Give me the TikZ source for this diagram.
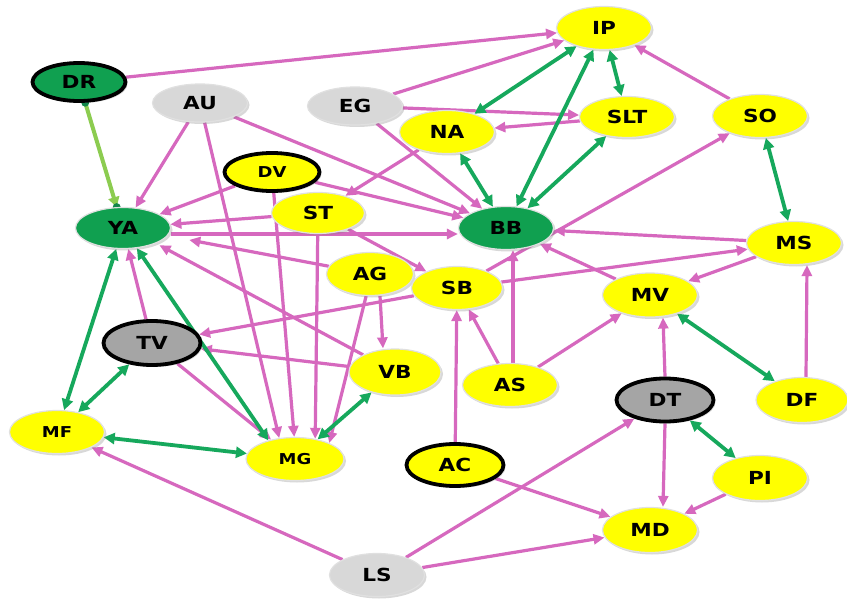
\documentclass[tikz,border=0pt]{standalone}
\usepackage{fontspec}
\newfontfamily\lblfont{DejaVu Sans}[FakeStretch=1.2]
\usetikzlibrary{shapes.geometric,arrows.meta,backgrounds,shadows}
\definecolor{pk}{RGB}{214,104,190}
\definecolor{gn}{RGB}{22,168,92}
\definecolor{lgn}{RGB}{140,204,80}
\definecolor{ylw}{RGB}{255,255,0}
\definecolor{ltg}{RGB}{216,216,216}
\definecolor{dkg}{RGB}{165,165,165}
\definecolor{ngreen}{RGB}{16,160,80}
\begin{document}
\begin{tikzpicture}[x=1pt,y=-1pt,
 nd/.style={ellipse, minimum width=95pt, minimum height=43pt, inner sep=0pt,
   font=\lblfont\bfseries\fontsize{18}{18}\selectfont, text=black,
   draw=black!12, line width=1.2pt,
   drop shadow={opacity=0.3, shadow xshift=2pt, shadow yshift=-2pt}},
 sm/.style={font=\lblfont\bfseries\fontsize{15}{15}\selectfont},
 yel/.style={nd, fill=ylw},
 lgr/.style={nd, fill=ltg},
 grn/.style={nd, fill=ngreen},
 dgr/.style={nd, fill=dkg},
 bord/.style={draw=black, line width=3.8pt},
 pkarr/.style={draw=pk, line width=3.2pt, -{Triangle[length=11pt,width=10pt]}},
 gnarr/.style={draw=gn, line width=3.8pt, {Triangle[length=11pt,width=11pt]}-{Triangle[length=11pt,width=11pt]}},
 lgarr/.style={draw=lgn, line width=4pt, -{Triangle[length=10pt,width=11pt]}},
 dotn/.style={circle, fill=gn!80!black, inner sep=2.8pt},
]
\useasboundingbox (0,0) rectangle (847,599);
% nodes
\node[yel] (IP) at (604,28) {IP};
\node[grn,bord,minimum width=93pt,minimum height=38pt] (DR) at (79,82) {DR};
\node[lgr,minimum height=38pt] (AU) at (200,103) {AU};
\node[lgr,minimum height=38pt] (EG) at (355,106) {EG};
\node[yel] (NA) at (447,132) {NA};
\node[yel,minimum height=41pt] (SLT) at (627,117) {SLT};
\node[yel] (SO) at (760,116) {SO};
\node[yel,bord,sm,minimum width=95pt,minimum height=38pt] (DV) at (272,172) {DV};
\node[yel,minimum width=93pt,minimum height=41pt] (ST) at (318,213) {ST};
\node[grn,minimum height=41pt] (YA) at (123,228) {YA};
\node[grn] (BB) at (506,228) {BB};
\node[yel] (MS) at (794,243) {MS};
\node[yel,minimum width=87pt] (AG) at (370,274) {AG};
\node[yel,minimum width=91pt] (SB) at (457,288) {SB};
\node[yel,minimum height=44pt] (MV) at (650,295) {MV};
\node[dgr,bord,minimum width=97pt,minimum height=44pt] (TV) at (152,343) {TV};
\node[yel,minimum width=92pt,minimum height=46pt] (VB) at (395,372) {VB};
\node[yel] (AS) at (510,385) {AS};
\node[dgr,bord,minimum width=97pt,minimum height=43pt] (DT) at (665,400) {DT};
\node[yel,minimum width=92pt,minimum height=45pt] (DF) at (802,400) {DF};
\node[yel,sm] (MF) at (57,432) {MF};
\node[yel,sm,minimum width=98pt] (MG) at (295,459) {MG};
\node[yel,bord,minimum width=97pt,minimum height=42pt] (AC) at (455,465) {AC};
\node[yel,minimum height=45pt] (PI) at (760,478) {PI};
\node[yel,minimum height=45pt] (MD) at (650,530) {MD};
\node[lgr] (LS) at (377,575) {LS};
% edges
\begin{scope}[on background layer]
\fill[white] (0,0) rectangle (847,599);
% pink
\draw[pkarr] (DR) -- (IP);
\draw[pkarr] (EG) -- (IP);
\draw[pkarr] (SO) -- (IP);
\draw[pkarr] (EG) -- (SLT);
\draw[pkarr] (SLT) -- (NA);
\draw[pkarr] (NA) -- (ST);
\draw[pkarr] (AU) -- (YA);
\draw[pkarr] (AU) -- (BB);
\draw[pkarr] (AU) -- (MG.127);
\draw[pkarr] (EG) -- (BB);
\draw[pkarr] (DV) -- (BB);
\draw[pkarr] (DV) -- (YA);
\draw[pkarr] (DV) -- (MG.92);
\draw[pkarr] (ST) -- (YA);
\draw[pkarr] (ST) -- (SB);
\draw[pkarr] (ST) -- (MG.45);
\draw[pkarr] ([yshift=-6pt]YA.east) -- ([yshift=-6pt]BB.west);
\draw[pkarr, shorten >=22pt] (AG) -- (YA.-10);
\draw[pkarr] ([xshift=10pt]AG.south) -- ([xshift=-12pt]VB.north);
\draw[pkarr] (AG.-100) -- (MG.25);
\draw[pkarr] (SB.30) -- (SO);
\draw[pkarr] (SB) -- (MS);
\draw[pkarr] (MS) -- (BB);
\draw[pkarr] (MS) -- (MV);
\draw[pkarr] (MV) -- (BB);
\draw[pkarr] ([xshift=4pt]DF.north) -- ([xshift=13pt]MS.south);
\draw[pkarr] (DT.north) -- ([xshift=13pt]MV.south);
\draw[pkarr] (DT.south) -- ([xshift=13pt]MD.north);
\draw[pkarr] (PI) -- (MD);
\draw[pkarr] (AC) -- (MD);
\draw[pkarr] (LS) -- (MD);
\draw[pkarr] (LS) -- (DT);
\draw[pkarr] (LS) -- (MF);
\draw[pkarr] (AC) -- (SB);
\draw[pkarr] (AS) -- (SB);
\draw[pkarr] ([xshift=3pt]AS.north) -- ([xshift=7pt]BB.south);
\draw[pkarr] (AS) -- (MV);
\draw[pkarr] (TV) -- (YA);
\draw[pkarr] (TV) -- (MG);
\draw[pkarr] (SB) -- (TV);
\draw[pkarr] (VB) -- (TV);
\draw[pkarr, shorten >=4pt] (VB) -- (YA.-25);
% green
\draw[gnarr] (IP) -- (NA);
\draw[gnarr] (IP) -- (BB);
\draw[gnarr] (IP) -- (SLT);
\draw[gnarr] (NA) -- (BB);
\draw[gnarr] (SLT) -- (BB);
\draw[gnarr] (SO) -- (MS);
\draw[gnarr] (MV) -- (DF);
\draw[gnarr] (DT) -- (PI);
\draw[gnarr] (YA) -- (MF);
\draw[gnarr] (YA) -- (MG.145);
\draw[gnarr] (TV) -- (MF);
\draw[gnarr] (MF) -- (MG);
\draw[gnarr] (VB) -- (MG);
% light green
\draw[lgarr] (DR) -- (YA) node[dotn, pos=0] (drdotA) {} node[dotn, pos=1] (drdotB) {};
\end{scope}
\end{tikzpicture}
\end{document}
